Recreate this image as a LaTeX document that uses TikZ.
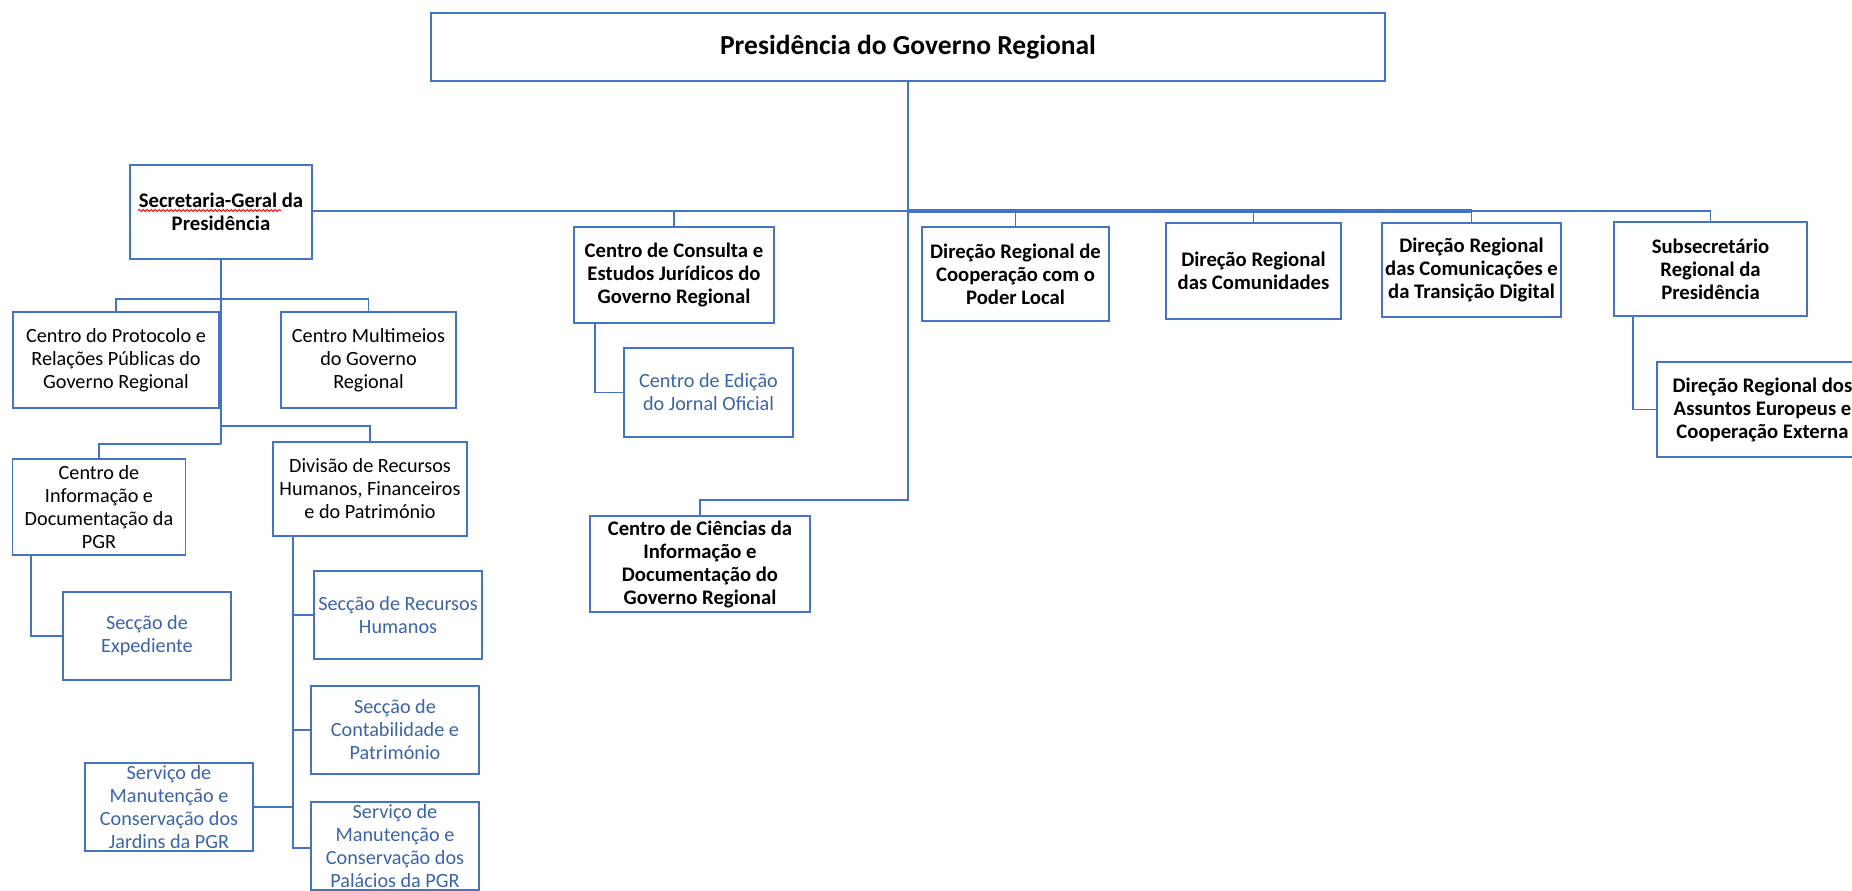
\documentclass[tikz,border=0pt]{standalone}
\usepackage{fontspec}
\setmainfont{Carlito}
\usetikzlibrary{decorations.pathmorphing}
\definecolor{bblue}{HTML}{4472C4}
\definecolor{tblue}{HTML}{3C64AC}
\begin{document}
\begin{tikzpicture}[x=1pt,y=-1pt,
  box/.style={draw=bblue, line width=1.6pt, fill=white, inner sep=0pt, align=center,
    font=\fontsize{20.2}{23}\selectfont},
  bbox/.style={box, font=\fontsize{20.7}{23}\selectfont\bfseries},
  blbox/.style={box, text=tblue},
  conn/.style={draw=bblue, line width=1.6pt},
  thickconn/.style={draw=bblue, line width=3.2pt},
  spell/.style={draw=red!85!black, line width=0.8pt, decorate,
    decoration={snake, amplitude=1.1pt, segment length=4pt}}
]
\useasboundingbox (0,0) rectangle (1852,891);
\clip (0,0) rectangle (1852,891);
\fill[white] (0,0) rectangle (1852,891);

% top
\node[box, font=\fontsize{27.5}{32}\selectfont\bfseries, minimum width=954pt, minimum height=68pt] (top) at (908,47) {Presidência do Governo Regional};

% second level
\node[bbox, minimum width=182pt, minimum height=94pt] (sec) at (221,212) {Secretaria-Geral da\\Presidência};
\node[bbox, minimum width=200pt, minimum height=96pt] (cons) at (674,275) {Centro de Consulta e\\Estudos Jurídicos do\\Governo Regional};
\node[blbox, minimum width=169pt, minimum height=89pt] (edic) at (708.5,392.5) {Centro de Edição\\do Jornal Oficial};
\node[bbox, minimum width=220pt, minimum height=96pt] (cienc) at (700,564) {Centro de Ciências da\\Informação e\\Documentação do\\Governo Regional};
\node[bbox, minimum width=187pt, minimum height=94pt] (coop) at (1015.5,274) {Direção Regional de\\Cooperação com o\\Poder Local};
\node[bbox, minimum width=175pt, minimum height=96pt] (comun) at (1253.5,271) {Direção Regional\\das Comunidades};
\node[bbox, minimum width=179pt, minimum height=94pt] (comtd) at (1471.5,270) {Direção Regional\\das Comunicações e\\da Transição Digital};
\node[bbox, minimum width=193pt, minimum height=94pt] (subs) at (1710.5,269) {Subsecretário\\Regional da\\Presidência};
\node[bbox, minimum width=211pt, minimum height=95pt] (eur) at (1762.5,409.5) {Direção Regional dos\\Assuntos Europeus e\\Cooperação Externa};

% Secretaria-Geral subtree
\node[box, minimum width=206pt, minimum height=96pt] (prot) at (116,360) {Centro do Protocolo e\\Relações Públicas do\\Governo Regional};
\node[box, minimum width=175pt, minimum height=96pt] (mult) at (368.5,360) {Centro Multimeios\\do Governo\\Regional};
\node[box, minimum width=173pt, minimum height=96pt] (cdi) at (99,507) {Centro de\\Informação e\\Documentação da\\PGR};
\node[box, minimum width=194pt, minimum height=94pt] (div) at (370,489) {Divisão de Recursos\\Humanos, Financeiros\\e do Património};
\node[blbox, minimum width=168pt, minimum height=88pt] (exp) at (147,636) {Secção de\\Expediente};
\node[blbox, minimum width=168pt, minimum height=88pt] (srh) at (398,615) {Secção de Recursos\\Humanos};
\node[blbox, minimum width=168pt, minimum height=88pt] (cont) at (395,730) {Secção de\\Contabilidade e\\Património};
\node[blbox, minimum width=168pt, minimum height=88pt] (jard) at (169,807) {Serviço de\\Manutenção e\\Conservação dos\\Jardins da PGR};
\node[blbox, minimum width=168pt, minimum height=88pt] (pal) at (395,846) {Serviço de\\Manutenção e\\Conservação dos\\Palácios da PGR};

% spell-check underline
\draw[spell] (138,210.5) -- (281,210.5);

% connectors: top level
\coordinate (hub) at (908,211);
\coordinate (cj) at (908,500);
\draw[conn] (top.south) -- (hub);
\draw[conn] (sec.east |- hub) -- (hub);
\draw[conn] (hub) -| (cons.north);
\draw[conn] (hub) -| (coop.north);
\draw[conn] (hub) -| (comun.north);
\draw[conn] (hub) -| (comtd.north);
\draw[conn] (hub) -| (subs.north);
\draw[thickconn] (hub) -- (hub -| comtd.north);
\draw[conn] (hub) -- (cj) -| (cienc.north);
\draw[conn] ([xshift=-79pt]cons.south) |- (edic.west);
\draw[conn] ([xshift=-77.5pt]subs.south) |- (eur.west);

% connectors: Secretaria-Geral
\coordinate (s1) at (221,299);
\coordinate (s2) at (221,426);
\coordinate (s3) at (221,444);
\draw[conn] (sec.south) -- (s3);
\draw[conn] (s1) -| (prot.north);
\draw[conn] (s1) -| (mult.north);
\draw[conn] (s2) -| (div.north);
\draw[conn] (s3) -| (cdi.north);
\draw[conn] ([xshift=-68pt]cdi.south) |- (exp.west);

% connectors: Divisao
\coordinate (d0) at (293,536);
\coordinate (d1) at (293,848);
\draw[conn] (d0) -- (d1) -- (d1 -| pal.west);
\draw[conn] (d0 |- srh.west) -- (srh.west);
\draw[conn] (d0 |- cont.west) -- (cont.west);
\draw[conn] (jard.east) -- (jard.east -| d0);
\end{tikzpicture}
\end{document}
